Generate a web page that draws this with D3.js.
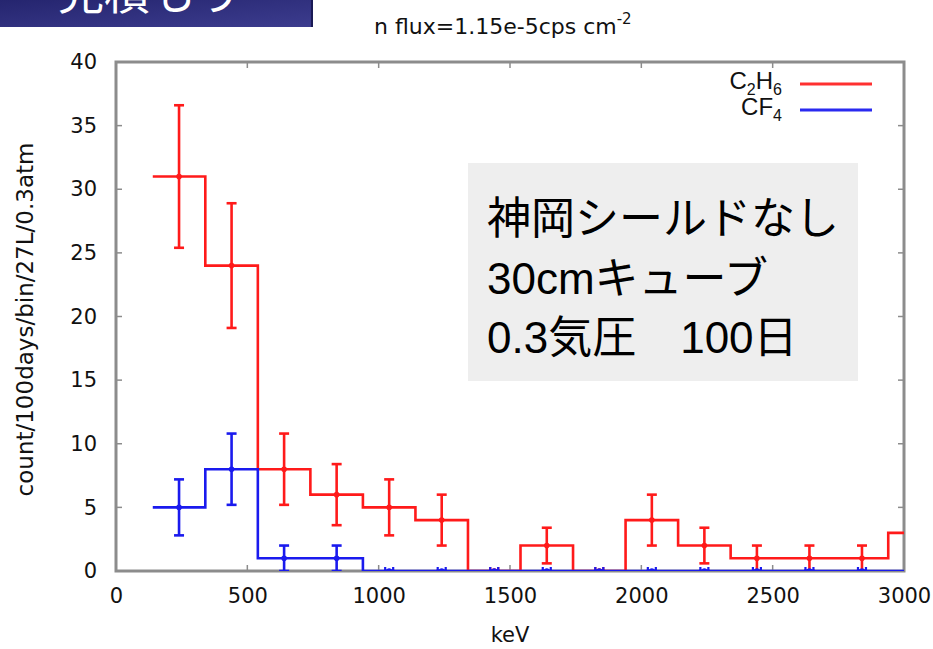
<!DOCTYPE html>
<html><head><meta charset="utf-8">
<script src="https://cdn.jsdelivr.net/npm/d3@7"></script>
<style>body{margin:0;background:#fff}svg{display:block}</style>
</head><body>
<svg id="c" width="933" height="649"></svg>
<script>
const energies = [240,440,640,840,1040,1240,1440,1640,1840,2040,2240,2440,2640,2840,3040];
const c2h6Counts = [31,24,8,6,5,4,0,2,0,4,2,1,1,1,3];
const c2h6Err    = [5.6,4.9,2.8,2.4,2.2,2.0,0,1.4,0,2.0,1.4,1.0,1.0,1.0,1.7];
const cf4Counts  = [5,8,1,1,0,0,0,0,0,0,0,0,0,0,0];
const cf4Err     = [2.2,2.8,1.0,1.0,0,0,0,0,0,0,0,0,0,0,0];
const xTicks = [0,500,1000,1500,2000,2500,3000];
const yTicks = [0,5,10,15,20,25,30,35,40];
const titleMain = "n flux=1.15e-5cps cm";
const titleSup = "-2";
const xLabel = "keV";
const yLabel = "count/100days/bin/27L/0.3atm";
const boxLines = ["神岡シールドなし","30cmキューブ","0.3気圧　100日"];
const bannerText = "見積もり";

const svg = d3.select("#c");
const L=116,R=904,T=62,B=571;
const x = d3.scaleLinear().domain([0,3000]).range([L,R]);
const y = d3.scaleLinear().domain([0,40]).range([B,T]);
const font = "DejaVu Sans, sans-serif";

// banner
const defs = svg.append("defs");
const g1 = defs.append("linearGradient").attr("id","bg").attr("x1","0").attr("y1","0").attr("x2","1").attr("y2","1");
g1.append("stop").attr("offset","0").attr("stop-color","#25256f");
g1.append("stop").attr("offset","1").attr("stop-color","#3c3c8e");
svg.append("rect").attr("x",0).attr("y",0).attr("width",313).attr("height",27).attr("fill","url(#bg)");
svg.append("rect").attr("x",311).attr("y",0).attr("width",2).attr("height",27).attr("fill","#1a1a55");
svg.append("text").attr("x",58).attr("y",9).attr("font-family","Noto Sans CJK JP").attr("font-size",46)
  .attr("fill","#fff").text(bannerText);

defs.append("clipPath").attr("id","pc").append("rect").attr("x",L).attr("y",T-20).attr("width",R-L).attr("height",B-T+20);

// title
const tt = svg.append("text").attr("x",374).attr("y",34).attr("font-family",font).attr("font-size",22).attr("fill","#111");
tt.append("tspan").text(titleMain);
tt.append("tspan").attr("dy",-10).attr("font-size",15).text(titleSup);

// frame & ticks
const frame = svg.append("g").attr("stroke","#8c8c8c").attr("fill","none");
frame.append("rect").attr("x",L).attr("y",T).attr("width",R-L).attr("height",B-T).attr("stroke-width",3);
yTicks.slice(1,-1).forEach(v=>{
  frame.append("line").attr("x1",L).attr("x2",L+6).attr("y1",y(v)).attr("y2",y(v)).attr("stroke-width",1.5);
  frame.append("line").attr("x1",R-6).attr("x2",R).attr("y1",y(v)).attr("y2",y(v)).attr("stroke-width",1.5);
});
xTicks.slice(1,-1).forEach(v=>{
  frame.append("line").attr("x1",x(v)).attr("x2",x(v)).attr("y1",B).attr("y2",B-6).attr("stroke-width",1.5);
  frame.append("line").attr("x1",x(v)).attr("x2",x(v)).attr("y1",T).attr("y2",T+6).attr("stroke-width",1.5);
});

// tick labels via axes
const fmt = d3.format("d");
const yAx = svg.append("g").attr("transform",`translate(${L},0)`).call(d3.axisLeft(y).tickValues(yTicks).tickFormat(fmt).tickSize(0).tickPadding(19));
const xAx = svg.append("g").attr("transform",`translate(0,${B})`).call(d3.axisBottom(x).tickValues(xTicks).tickFormat(fmt).tickSize(0).tickPadding(17));
[yAx,xAx].forEach(a=>{a.select(".domain").remove();a.selectAll("text").attr("font-family",font).attr("font-size",21).attr("fill","#111");});

svg.append("text").attr("x",(L+R)/2).attr("y",642).attr("text-anchor","middle").attr("font-family",font).attr("font-size",21).attr("fill","#111").text(xLabel);
svg.append("text").attr("transform",`translate(33,${(T+B)/2+3}) rotate(-90)`).attr("text-anchor","middle").attr("font-family",font).attr("font-size",23).attr("fill","#111").text(yLabel);

// text box
svg.append("rect").attr("x",468).attr("y",163).attr("width",390).attr("height",218).attr("fill","#eeeeee");
boxLines.forEach((s,i)=>{
  svg.append("text").attr("x",487).attr("y",234+i*59.5).attr("font-family","Liberation Sans, Noto Sans CJK JP").attr("font-size",44).attr("fill","#000").text(s);
});

// data
const plot = svg.append("g").attr("clip-path","url(#pc)");
function stepPath(vals){
  const p = d3.path();
  const half = (energies[1]-energies[0])/2;
  p.moveTo(x(energies[0]-half), y(vals[0]));
  for(let i=0;i<energies.length;i++){
    const right = energies[i]+half;
    p.lineTo(x(right), y(vals[i]));
    if(i<energies.length-1) p.lineTo(x(right), y(vals[i+1]));
  }
  return p.toString();
}
function drawSeries(vals, errs, color){
  const g = plot.append("g").attr("stroke",color).attr("fill","none").attr("stroke-width",2.6);
  g.append("path").attr("d",stepPath(vals)).attr("stroke-linejoin","miter");
  energies.forEach((e,i)=>{
    const cx=x(e), lo=y(vals[i]-errs[i]), hi=y(vals[i]+errs[i]);
    g.append("line").attr("x1",cx).attr("x2",cx).attr("y1",lo).attr("y2",hi);
    g.append("line").attr("x1",cx-5).attr("x2",cx+5).attr("y1",lo).attr("y2",lo);
    g.append("line").attr("x1",cx-5).attr("x2",cx+5).attr("y1",hi).attr("y2",hi);
    g.append("circle").attr("cx",cx).attr("cy",y(vals[i])).attr("r",2.8).attr("fill",color).attr("stroke","none");
    if(errs[i]===0){
      g.append("line").attr("x1",cx-4).attr("x2",cx-4).attr("y1",y(vals[i])-4).attr("y2",y(vals[i])+4).attr("stroke-width",2.2);
      g.append("line").attr("x1",cx+4).attr("x2",cx+4).attr("y1",y(vals[i])-4).attr("y2",y(vals[i])+4).attr("stroke-width",2.2);
    }
  });
}
drawSeries(c2h6Counts, c2h6Err, "#ff1a1a");
drawSeries(cf4Counts, cf4Err, "#1a1aee");

// legend
const lg = svg.append("g").attr("font-family","Liberation Sans, sans-serif").attr("fill","#111");
const t1 = lg.append("text").attr("x",782).attr("y",89).attr("text-anchor","end").attr("font-size",24);
t1.append("tspan").text("C");
t1.append("tspan").attr("dy",6).attr("font-size",16).text("2");
t1.append("tspan").attr("dy",-6).text("H");
t1.append("tspan").attr("dy",6).attr("font-size",16).text("6");
const t2 = lg.append("text").attr("x",782).attr("y",115).attr("text-anchor","end").attr("font-size",24);
t2.append("tspan").text("CF");
t2.append("tspan").attr("dy",6).attr("font-size",16).text("4");
lg.append("line").attr("x1",800).attr("x2",872).attr("y1",84).attr("y2",84).attr("stroke","#ff3030").attr("stroke-width",3);
lg.append("line").attr("x1",800).attr("x2",872).attr("y1",110).attr("y2",110).attr("stroke","#2a2af0").attr("stroke-width",3);
</script>
</body></html>
